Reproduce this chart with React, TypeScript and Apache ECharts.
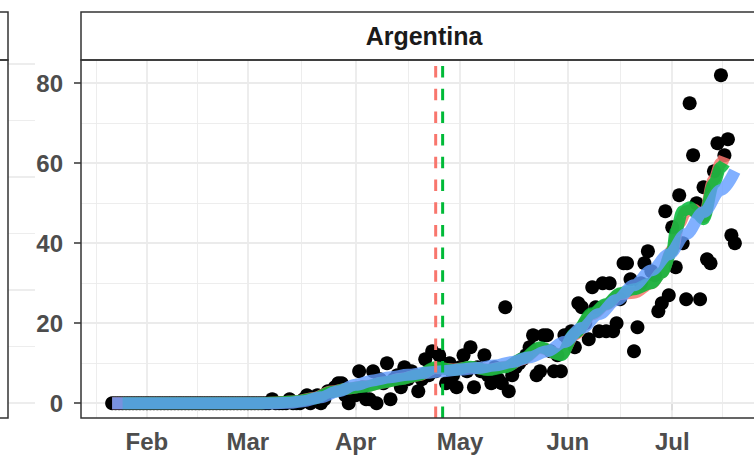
import React, { useEffect, useRef } from "react";
import * as echarts from "echarts";

// ---------- data ----------
const FIRST_DAY = "2020-01-22";
const DAILY_DEATHS = [
  // Jan 22 - Jan 31
  0, 0, 0, 0, 0, 0, 0, 0, 0, 0,
  // Feb 1 - Feb 29
  0, 0, 0, 0, 0, 0, 0, 0, 0, 0,
  0, 0, 0, 0, 0, 0, 0, 0, 0, 0,
  0, 0, 0, 0, 0, 0, 0, 0, 0,
  // Mar 1 - Mar 31
  0, 0, 0, 0, 0, 0, 0, 1, 0, 0,
  0, 0, 1, 0, 0, 0, 1, 2, 0, 1,
  2, 0, 1, 3, 3, 4, 5, 5, 2, 0,
  3,
  // Apr 1 - Apr 30
  2, 8, 4, 1, 1, 8, 0, 6, 5, 10,
  1, 6, 7, 4, 9, 6, 8, 7, 3, 6,
  11, 7, 13, 8, 12, 10, 5, 10, 7, 4,
  // May 1 - May 31
  9, 12, 8, 14, 4, 9, 8, 12, 7, 5,
  9, 6, 5, 24, 3, 7, 9, 10, 11, 12,
  14, 17, 7, 8, 17, 17, 13, 8, 12, 8,
  17,
  // Jun 1 - Jun 30
  16, 18, 14, 25, 24, 20, 16, 29, 24, 18,
  30, 18, 30, 18, 20, 26, 35, 35, 31, 13,
  19, 30, 35, 38, 33, 32, 23, 25, 48, 27,
  // Jul 1 - Jul 19
  44, 34, 52, 40, 26, 75, 62, 50, 26, 54,
  36, 35, 58, 65, 82, 62, 66, 42, 40,
];

const RED_DATES = ["2020-01-22", "2020-03-05", "2020-03-10", "2020-03-15", "2020-03-20", "2020-03-25", "2020-03-30", "2020-04-04", "2020-04-09", "2020-04-14", "2020-04-19", "2020-04-24", "2020-04-29", "2020-05-04", "2020-05-09", "2020-05-14", "2020-05-19", "2020-05-24", "2020-05-30", "2020-06-03", "2020-06-08", "2020-06-12", "2020-06-16", "2020-06-20", "2020-06-25", "2020-06-28", "2020-07-01", "2020-07-03", "2020-07-05", "2020-07-07", "2020-07-10", "2020-07-13", "2020-07-15", "2020-07-16"];
const RED_VALUES = [0, 0, 0.2, 0.5, 1.3, 2.9, 3.7, 4.3, 5.2, 6.1, 7.0, 8.8, 8.4, 9.0, 8.4, 9.1, 11.0, 13.8, 12.2, 17.2, 22.2, 24.6, 27.3, 27.6, 30.0, 32.7, 38.3, 45.0, 48.0, 48.5, 46.5, 56.0, 60.0, 61.5];

const GREEN_DATES = ["2020-01-25", "2020-03-05", "2020-03-10", "2020-03-15", "2020-03-20", "2020-03-25", "2020-03-30", "2020-04-04", "2020-04-09", "2020-04-14", "2020-04-19", "2020-04-24", "2020-04-29", "2020-05-04", "2020-05-09", "2020-05-14", "2020-05-19", "2020-05-24", "2020-05-30", "2020-06-03", "2020-06-08", "2020-06-12", "2020-06-16", "2020-06-20", "2020-06-25", "2020-06-28", "2020-07-01", "2020-07-02", "2020-07-04", "2020-07-06", "2020-07-08", "2020-07-10", "2020-07-13", "2020-07-15", "2020-07-16"];
const GREEN_VALUES = [0, 0, 0.2, 0.5, 1.2, 2.8, 3.7, 4.2, 5.2, 6.0, 7.0, 9.0, 8.3, 9.1, 8.3, 9.0, 11.2, 14.0, 12.0, 17.5, 22.5, 24.8, 27.5, 28.5, 30.0, 32.6, 38.0, 43.0, 48.0, 49.0, 47.5, 46.0, 55.0, 59.0, 60.0];

const BLUE_DATES = ["2020-01-22", "2020-02-10", "2020-03-01", "2020-03-08", "2020-03-13", "2020-03-17", "2020-03-22", "2020-03-27", "2020-04-01", "2020-04-06", "2020-04-11", "2020-04-16", "2020-04-21", "2020-04-26", "2020-05-01", "2020-05-06", "2020-05-11", "2020-05-16", "2020-05-21", "2020-05-26", "2020-05-31", "2020-06-05", "2020-06-10", "2020-06-15", "2020-06-20", "2020-06-25", "2020-06-30", "2020-07-05", "2020-07-10", "2020-07-15", "2020-07-19"];
const BLUE_VALUES = [0, 0, 0, 0, 0.1, 0.5, 1.5, 3.0, 4.6, 5.7, 6.5, 7.1, 7.6, 8.0, 8.4, 8.8, 9.4, 10.3, 11.5, 13.0, 15.3, 18.8, 22.3, 25.8, 29.5, 33.2, 37.2, 42.3, 47.8, 53.3, 58.0];

const VLINE_DATES = ["2020-04-24", "2020-04-26"];
const VLINE_COLORS = ["#F8766D", "#00BA38"];

const X_BREAKS = ["2020-02-01", "2020-03-01", "2020-04-01", "2020-05-01", "2020-06-01", "2020-07-01"];
const X_LABELS = ["Feb", "Mar", "Apr", "May", "Jun", "Jul"];
// breaks extended one step on each side (used for minor grid midpoints)
const X_BREAKS_EXT = ["2020-01-03", ...X_BREAKS, "2020-07-30"];
const Y_BREAKS = [0, 20, 40, 60, 80];
const Y_MINOR = [10, 30, 50, 70];
const LEFT_PANEL_GRID = [0, 0.5, 1, 1.5, 2, 2.5, 3];

const FACET_TITLE = "Argentina";

// ---------- helpers ----------
const dayNum = (s: string) => {
  const [y, m, d] = s.split("-").map(Number);
  return Math.round((Date.UTC(y, m - 1, d) - Date.UTC(2020, 0, 1)) / 86400000);
};

const X_MIN = 12.05;
const X_MAX = 208.95;
const Y_MIN = -3.7;
const Y_MAX = 85.8;

const FONT = "'Liberation Sans', Arial, Helvetica, sans-serif";

export default function App() {
  const ref = useRef<HTMLDivElement>(null);

  useEffect(() => {
    if (!ref.current) return;
    const chart = echarts.init(ref.current, undefined, { renderer: "svg" });

    const start = dayNum(FIRST_DAY);
    const points = DAILY_DEATHS.map((v, i) => [start + i, v]);
    const toLine = (dates: string[], vals: number[]) => dates.map((d, i) => [dayNum(d), vals[i]]);

    const majorX = X_BREAKS.map(dayNum);
    const extX = X_BREAKS_EXT.map(dayNum);
    const minorX: number[] = [];
    for (let i = 0; i < extX.length - 1; i++) minorX.push((extX[i] + extX[i + 1]) / 2);

    const gridMarkData: any[] = [
      ...minorX.map((v) => ({ xAxis: v, lineStyle: { color: "#ebebeb", width: 0.9, type: "solid" } })),
      ...Y_MINOR.map((v) => ({ yAxis: v, lineStyle: { color: "#ebebeb", width: 0.9, type: "solid" } })),
      ...majorX.map((v) => ({ xAxis: v, lineStyle: { color: "#ebebeb", width: 1.8, type: "solid" } })),
      ...Y_BREAKS.map((v) => ({ yAxis: v, lineStyle: { color: "#ebebeb", width: 1.8, type: "solid" } })),
    ];

    const leftGridData: any[] = LEFT_PANEL_GRID.map((v, i) => ({
      yAxis: v,
      lineStyle: { color: "#ebebeb", width: i % 2 === 0 ? 1.8 : 0.9, type: "solid" },
    }));

    const smoothSeries = (name: string, data: number[][], color: string, opacity: number, z: number) => ({
      name,
      type: "line",
      data,
      smooth: 0.35,
      smoothMonotone: "x",
      showSymbol: false,
      symbol: "none",
      silent: true,
      z,
      lineStyle: { color, width: 12, opacity, cap: "butt" },
    });

    const option: any = {
      animation: false,
      backgroundColor: "#ffffff",
      grid: [
        { left: 81, top: 60, width: 685, height: 358, show: false },
        { left: -100, top: 60, width: 108, height: 358, show: false },
      ],
      xAxis: [
        {
          type: "value",
          gridIndex: 0,
          min: X_MIN,
          max: X_MAX,
          axisLine: { show: false },
          splitLine: { show: false },
          axisTick: {
            show: true,
            length: 7,
            customValues: majorX,
            lineStyle: { color: "#333333", width: 1.5 },
          },
          axisLabel: {
            show: true,
            customValues: majorX,
            margin: 11,
            color: "#4d4d4d",
            fontSize: 24,
            fontWeight: "bold",
            fontFamily: FONT,
            formatter: (v: number) => {
              const i = majorX.indexOf(Math.round(v));
              return i >= 0 ? X_LABELS[i] : "";
            },
          },
        },
        { type: "value", gridIndex: 1, min: 0, max: 1, show: false },
      ],
      yAxis: [
        {
          type: "value",
          gridIndex: 0,
          min: Y_MIN,
          max: Y_MAX,
          axisLine: { show: false },
          splitLine: { show: false },
          axisTick: {
            show: true,
            length: 7,
            customValues: Y_BREAKS,
            lineStyle: { color: "#333333", width: 1.5 },
          },
          axisLabel: {
            show: true,
            customValues: Y_BREAKS,
            margin: 18,
            color: "#4d4d4d",
            fontSize: 24,
            fontWeight: "bold",
            fontFamily: FONT,
          },
        },
        { type: "value", gridIndex: 1, min: -0.133, max: 3.035, show: false },
      ],
      series: [
        {
          name: "grid",
          type: "line",
          xAxisIndex: 0,
          yAxisIndex: 0,
          data: [],
          z: 1,
          markLine: {
            silent: true,
            z: 1,
            symbol: ["none", "none"],
            label: { show: false },
            emphasis: { disabled: true },
            data: gridMarkData,
          },
        },
        {
          name: "leftgrid",
          type: "line",
          xAxisIndex: 1,
          yAxisIndex: 1,
          data: [],
          z: 1,
          markLine: {
            silent: true,
            z: 1,
            symbol: ["none", "none"],
            label: { show: false },
            emphasis: { disabled: true },
            data: leftGridData,
          },
        },
        {
          name: "deaths",
          type: "scatter",
          data: points,
          symbol: "circle",
          symbolSize: 14,
          itemStyle: { color: "#000000", opacity: 1 },
          silent: true,
          z: 2,
        },
        smoothSeries("red", toLine(RED_DATES, RED_VALUES), "#F8766D", 0.85, 3),
        smoothSeries("green", toLine(GREEN_DATES, GREEN_VALUES), "#00BA38", 0.85, 4),
        smoothSeries("blue", toLine(BLUE_DATES, BLUE_VALUES), "#619CFF", 0.8, 5),
        ...VLINE_DATES.map((d, i) => ({
          name: "vline" + i,
          type: "line",
          data: [
            [dayNum(d), Y_MIN],
            [dayNum(d), Y_MAX],
          ],
          showSymbol: false,
          symbol: "none",
          silent: true,
          z: 6,
          lineStyle: { color: VLINE_COLORS[i], width: 3, type: [11.5, 11.2] },
        })),
      ],
      graphic: [
        // left (cut-off) facet
        { type: "rect", z: 100, shape: { x: -20, y: 12, width: 28, height: 48 }, style: { fill: "#ffffff", stroke: "#333333", lineWidth: 1.5 } },
        { type: "rect", z: 100, shape: { x: -20, y: 60, width: 28, height: 358 }, style: { fill: "none", stroke: "#333333", lineWidth: 1.5 } },
        // main facet strip
        { type: "rect", z: 100, shape: { x: 81, y: 12, width: 685, height: 48 }, style: { fill: "#ffffff", stroke: "#333333", lineWidth: 1.5 } },
        {
          type: "text",
          z: 101,
          x: 424,
          y: 36,
          style: {
            text: FACET_TITLE,
            fill: "#1a1a1a",
            font: `bold 25px ${FONT}`,
            textAlign: "center",
            textVerticalAlign: "middle",
          },
        },
        // main panel border
        { type: "rect", z: 100, shape: { x: 81, y: 60, width: 685, height: 358 }, style: { fill: "none", stroke: "#333333", lineWidth: 1.5 } },
      ],
    };

    chart.setOption(option);
    return () => chart.dispose();
  }, []);

  return (
    <div
      ref={ref}
      style={{ position: "fixed", left: 0, top: 0, width: 800, height: 455, background: "#ffffff" }}
    />
  );
}
